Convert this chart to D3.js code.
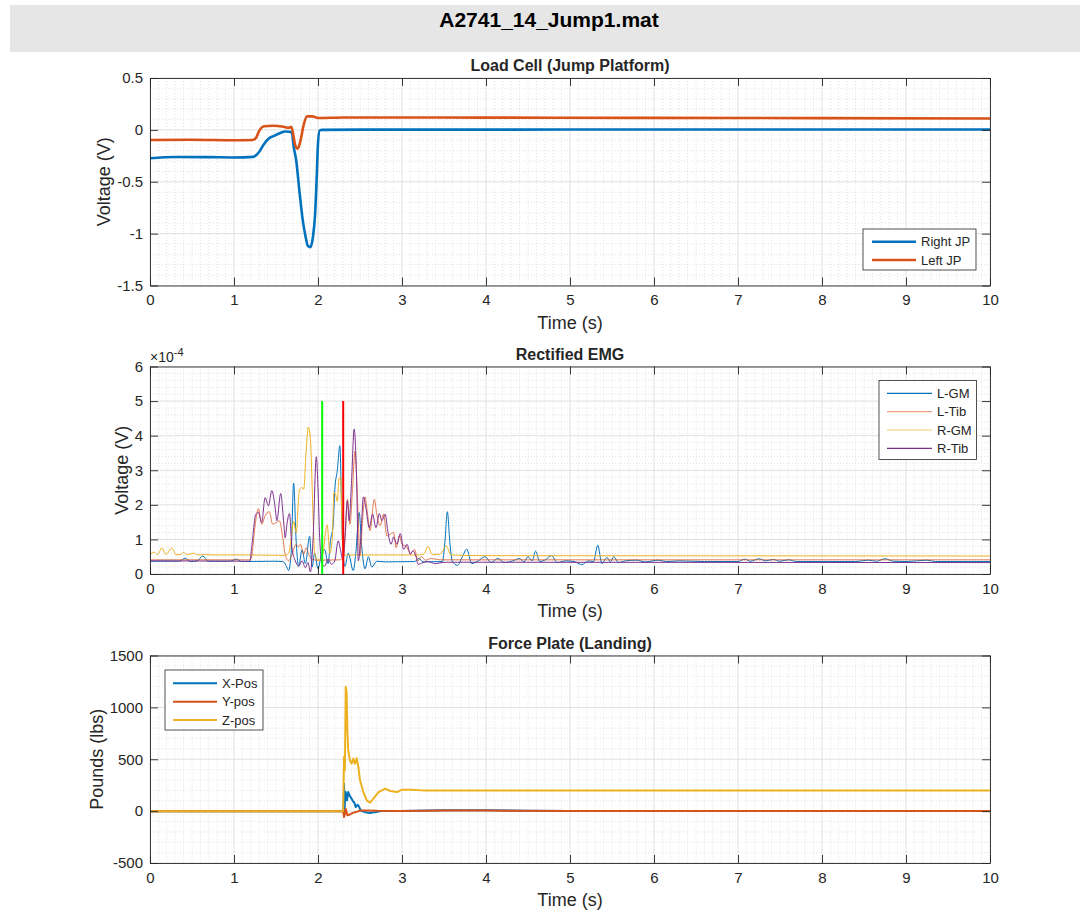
<!DOCTYPE html>
<html><head><meta charset="utf-8">
<script src="https://cdn.jsdelivr.net/npm/d3@7"></script>
<style>body{margin:0;background:#fff}svg{display:block}text{font-family:"Liberation Sans",Arial,Helvetica,sans-serif;fill:#262626}</style>
</head><body><div id="chart"></div>
<script>
// ---------------- DATA ----------------
const figTitle = "A2741_14_Jump1.mat";
const xTicks = [0,1,2,3,4,5,6,7,8,9,10];

// Load cell [time s, volts]
const rightJP = [[0,-0.273],[0.3,-0.262],[0.7,-0.263],[1.0,-0.266],[1.23,-0.26],[1.27,-0.24],[1.31,-0.2],[1.35,-0.145],[1.41,-0.085],[1.47,-0.06],[1.55,-0.03],[1.61,-0.015],[1.66,-0.018],[1.69,-0.03],[1.71,-0.16],[1.74,-0.29],[1.78,-0.6],[1.82,-0.88],[1.85,-1.02],[1.88,-1.12],[1.91,-1.13],[1.94,-1.03],[1.965,-0.82],[1.985,-0.45],[2.0,-0.13],[2.02,-0.005],[2.05,0.0],[2.5,0.002],[5,0.003],[7.5,0.004],[10,0.004]];
const leftJP = [[0,-0.097],[0.5,-0.095],[1.0,-0.1],[1.22,-0.098],[1.26,-0.08],[1.3,-0.01],[1.36,0.035],[1.46,0.04],[1.59,0.03],[1.65,0.02],[1.68,0.03],[1.70,-0.02],[1.73,-0.15],[1.76,-0.18],[1.79,-0.11],[1.83,0.05],[1.87,0.13],[1.93,0.13],[2.0,0.115],[2.3,0.12],[4,0.118],[6,0.116],[8,0.113],[10,0.11]];
const loadYTicks = [0.5,0,-0.5,-1,-1.5];

// Rectified EMG [time s, value x1e-4 V]
const lGM = [[0,0.37],[0.35,0.37],[0.42,0.46],[0.48,0.36],[0.56,0.38],[0.63,0.52],[0.69,0.37],[0.95,0.37],[1.03,0.43],[1.09,0.36],[1.5,0.37],[1.58,0.36],[1.62,0.25],[1.65,0.1],[1.68,0.6],[1.71,2.62],[1.74,0.95],[1.77,0.22],[1.81,0.7],[1.85,0.3],[1.9,1.09],[1.93,0.2],[1.96,0.6],[2.0,0.15],[2.04,0.55],[2.08,0.7],[2.12,0.3],[2.15,1.0],[2.18,1.4],[2.2,2.44],[2.23,3.0],[2.26,3.71],[2.29,1.0],[2.32,0.22],[2.36,0.6],[2.42,0.1],[2.45,0.6],[2.49,1.78],[2.52,0.8],[2.56,0.15],[2.6,0.5],[2.64,0.2],[2.7,0.37],[2.8,0.35],[3.15,0.36],[3.2,0.45],[3.25,0.35],[3.48,0.36],[3.51,0.9],[3.54,1.8],[3.57,0.9],[3.6,0.37],[3.66,0.25],[3.72,0.5],[3.77,0.72],[3.83,0.3],[3.9,0.37],[3.99,0.5],[4.06,0.33],[4.14,0.45],[4.22,0.33],[4.32,0.38],[4.4,0.45],[4.45,0.35],[4.5,0.5],[4.55,0.38],[4.59,0.66],[4.64,0.36],[4.7,0.4],[4.78,0.53],[4.85,0.33],[4.95,0.38],[5.05,0.36],[5.14,0.27],[5.22,0.38],[5.28,0.36],[5.33,0.83],[5.38,0.3],[5.44,0.48],[5.48,0.35],[5.52,0.5],[5.58,0.33],[5.66,0.38],[5.79,0.4],[5.9,0.35],[6.05,0.4],[6.15,0.36],[6.3,0.38],[6.6,0.36],[7.0,0.36],[7.08,0.43],[7.15,0.37],[7.25,0.44],[7.33,0.38],[7.42,0.42],[7.5,0.37],[7.6,0.41],[7.7,0.36],[8.4,0.36],[8.55,0.4],[8.65,0.37],[8.75,0.44],[8.85,0.37],[9.0,0.36],[9.25,0.4],[9.35,0.36],[10,0.36]];
const lTib = [[0,0.41],[1.19,0.41],[1.21,0.5],[1.25,1.38],[1.29,1.89],[1.33,1.44],[1.37,1.68],[1.42,1.8],[1.46,1.44],[1.5,1.48],[1.54,1.54],[1.58,1.05],[1.61,0.57],[1.65,0.38],[1.68,0.5],[1.71,0.71],[1.74,0.86],[1.765,0.78],[1.79,0.86],[1.83,0.57],[1.86,0.76],[1.89,0.57],[1.93,0.42],[2.0,0.4],[2.26,0.41],[2.3,0.47],[2.33,1.3],[2.35,2.16],[2.38,1.44],[2.41,2.4],[2.44,3.55],[2.47,2.2],[2.5,0.52],[2.53,1.54],[2.56,2.23],[2.59,1.73],[2.62,1.25],[2.67,2.16],[2.70,1.73],[2.74,1.4],[2.78,1.73],[2.82,1.1],[2.86,1.15],[2.9,1.2],[2.93,0.76],[2.97,1.1],[3.0,0.86],[3.05,0.8],[3.1,0.6],[3.15,0.71],[3.19,0.38],[3.23,0.5],[3.28,0.4],[3.35,0.45],[3.45,0.41],[4,0.41],[10,0.41]];
const rGM = [[0,0.56],[0.05,0.63],[0.09,0.56],[0.14,0.75],[0.19,0.57],[0.26,0.75],[0.31,0.56],[0.36,0.56],[0.4,0.63],[0.44,0.56],[0.52,0.6],[0.57,0.55],[0.66,0.56],[0.75,0.55],[1.2,0.55],[1.6,0.54],[1.65,0.6],[1.68,1.0],[1.71,1.52],[1.74,1.2],[1.78,2.44],[1.81,2.5],[1.83,2.45],[1.86,3.6],[1.885,4.25],[1.91,3.88],[1.94,1.76],[1.96,0.6],[2.0,0.4],[2.04,0.42],[2.06,0.6],[2.09,1.2],[2.11,1.42],[2.14,0.6],[2.17,1.0],[2.19,2.36],[2.21,2.3],[2.23,2.1],[2.25,2.75],[2.27,2.8],[2.29,1.0],[2.31,0.53],[2.34,0.55],[3.2,0.55],[3.26,0.58],[3.31,0.8],[3.36,0.56],[3.45,0.57],[3.53,0.81],[3.58,0.55],[4,0.53],[10,0.52]];
const rTib = [[0,0.38],[1.19,0.37],[1.21,0.76],[1.26,1.73],[1.29,1.78],[1.33,1.49],[1.37,2.21],[1.41,1.97],[1.45,2.41],[1.49,1.92],[1.51,1.54],[1.556,2.33],[1.59,1.54],[1.61,1.05],[1.63,1.44],[1.66,1.75],[1.69,0.76],[1.73,0.38],[1.77,0.23],[1.81,0.38],[1.85,0.18],[1.88,0.33],[1.91,0.06],[1.94,0.96],[1.98,3.39],[2.0,2.5],[2.02,1.05],[2.05,0.28],[2.08,0.23],[2.12,0.43],[2.16,0.28],[2.2,0.38],[2.24,0.96],[2.27,0.67],[2.3,0.38],[2.32,1.05],[2.35,2.12],[2.37,1.54],[2.40,2.7],[2.43,4.19],[2.46,2.7],[2.48,0.38],[2.51,1.05],[2.54,2.23],[2.57,1.92],[2.61,1.34],[2.65,1.73],[2.69,1.34],[2.73,1.75],[2.76,1.54],[2.80,1.73],[2.83,1.25],[2.87,0.86],[2.90,1.07],[2.94,0.86],[2.98,1.17],[3.02,0.71],[3.06,0.86],[3.10,0.57],[3.13,0.67],[3.17,0.47],[3.19,0.28],[3.25,0.33],[3.3,0.36],[3.4,0.3],[3.5,0.34],[4,0.34],[10,0.33]];
const emgMarkers = [{t:2.05,color:"#00ff00"},{t:2.3,color:"#ff0000"}];
const emgMarkerTop = 5;
const emgYTicks = [0,1,2,3,4,5,6];

// Force plate [time s, lbs]
const xPos = [[0,0],[2.3,0],[2.305,60],[2.31,265],[2.315,0],[2.325,150],[2.33,184],[2.345,104],[2.36,184],[2.375,152],[2.4,120],[2.42,90],[2.43,87],[2.45,39],[2.47,60],[2.48,55],[2.51,6],[2.54,-5],[2.56,-10],[2.62,-19],[2.66,-12],[2.68,-10],[2.75,0],[3,2],[3.5,8],[4,8],[4.5,3],[5,2],[10,2]];
const yPos = [[0,0],[2.3,0],[2.31,-57],[2.32,-30],[2.33,22],[2.35,-40],[2.38,-32],[2.41,-20],[2.44,-10],[2.47,-5],[2.5,6],[2.58,6],[2.7,3],[3,2],[3.5,6],[4,5],[5,2],[10,2]];
const zPos = [[0,0],[2.29,0],[2.30,5],[2.31,523],[2.32,394],[2.33,1199],[2.34,1150],[2.35,780],[2.36,587],[2.38,490],[2.40,458],[2.42,506],[2.44,458],[2.46,510],[2.48,426],[2.50,297],[2.54,184],[2.58,104],[2.62,81],[2.66,120],[2.72,184],[2.80,217],[2.86,194],[2.94,184],[3.0,207],[3.1,205],[3.25,200],[4,200],[6,199],[8,198],[10,198]];
const forceYTicks = [1500,1000,500,0,-500];

const C = {blue:"#0072BD", orange:"#D95319", yellow:"#EDB120", purple:"#7E2F8E"};

// ---------------- LAYOUT ----------------
const W = 1090, H = 912;
const L = 150, R = 990, PH = 207.5;
const svg = d3.select("#chart").append("svg").attr("width", W).attr("height", H);

svg.append("rect").attr("x",10).attr("y",5).attr("width",1070).attr("height",47).attr("fill","#e6e6e6");
svg.append("text").attr("x",549).attr("y",27).attr("text-anchor","middle")
  .attr("font-size",21).attr("font-weight","bold").style("fill","#000").text(figTitle);

function makeAxes(idx, top, domain, yTicks, yMinor, title, ylabel, ylabelX) {
  const x = d3.scaleLinear().domain([0,10]).range([L,R]);
  const y = d3.scaleLinear().domain(domain).range([top+PH, top]);
  const g = svg.append("g");
  g.append("rect").attr("x",L).attr("y",top).attr("width",R-L).attr("height",PH).attr("fill","#fff");
  const xMinor = d3.range(0,10.0001,0.1).filter(v=>Math.abs(v-Math.round(v))>1e-6);
  g.selectAll(null).data(xMinor).join("line")
    .attr("x1",d=>x(d)).attr("x2",d=>x(d)).attr("y1",top).attr("y2",top+PH)
    .attr("stroke","#d0d0d0").attr("stroke-width",0.6).attr("stroke-dasharray","1,2");
  const yMin = d3.range(domain[0],domain[1]+1e-9,yMinor).filter(v=>!yTicks.some(t=>Math.abs(t-v)<1e-9));
  g.selectAll(null).data(yMin).join("line")
    .attr("x1",L).attr("x2",R).attr("y1",d=>y(d)).attr("y2",d=>y(d))
    .attr("stroke","#d0d0d0").attr("stroke-width",0.6).attr("stroke-dasharray","1,2");
  g.selectAll(null).data(xTicks).join("line")
    .attr("x1",d=>x(d)).attr("x2",d=>x(d)).attr("y1",top).attr("y2",top+PH)
    .attr("stroke","#e0e0e0").attr("stroke-width",1);
  g.selectAll(null).data(yTicks).join("line")
    .attr("x1",L).attr("x2",R).attr("y1",d=>y(d)).attr("y2",d=>y(d))
    .attr("stroke","#e0e0e0").attr("stroke-width",1);
  svg.append("clipPath").attr("id","clip"+idx).append("rect").attr("x",L).attr("y",top).attr("width",R-L).attr("height",PH);
  const plot = svg.append("g").attr("clip-path",`url(#clip${idx})`);
  const axg = svg.append("g");
  const fmt = v => String(v);
  const ax = axg.append("g").attr("transform",`translate(0,${top+PH})`)
    .call(d3.axisBottom(x).tickValues(xTicks).tickSizeInner(-8).tickSizeOuter(0).tickPadding(9).tickFormat(fmt));
  const axT = axg.append("g").attr("transform",`translate(0,${top})`)
    .call(d3.axisTop(x).tickValues(xTicks).tickSizeInner(-8).tickSizeOuter(0).tickFormat(""));
  const ay = axg.append("g").attr("transform",`translate(${L},0)`)
    .call(d3.axisLeft(y).tickValues(yTicks).tickSizeInner(-8).tickSizeOuter(0).tickPadding(7).tickFormat(fmt));
  const ayR = axg.append("g").attr("transform",`translate(${R},0)`)
    .call(d3.axisRight(y).tickValues(yTicks).tickSizeInner(-8).tickSizeOuter(0).tickFormat(""));
  [ax,axT,ay,ayR].forEach(a=>{
    a.select(".domain").attr("stroke","#262626").attr("stroke-width",0.9);
    a.selectAll(".tick line").attr("stroke","#262626").attr("stroke-width",0.9);
    a.selectAll(".tick text").attr("font-size",15).attr("fill","#262626").style("font-family",'"Liberation Sans",Arial,sans-serif');
  });
  axg.append("text").attr("x",(L+R)/2).attr("y",top-7).attr("text-anchor","middle")
    .attr("font-size",16).attr("font-weight","bold").text(title);
  axg.append("text").attr("x",(L+R)/2).attr("y",top+PH+43).attr("text-anchor","middle")
    .attr("font-size",18).text("Time (s)");
  axg.append("text").attr("transform",`translate(${ylabelX},${top+PH/2}) rotate(-90)`).attr("text-anchor","middle")
    .attr("font-size",18).text(ylabel);
  return {x,y,plot,axg,top};
}

function drawLine(ax, data, color, width, curve, op) {
  const line = d3.line().x(d=>ax.x(d[0])).y(d=>ax.y(d[1])).curve(curve||d3.curveLinear);
  ax.plot.append("path").datum(data).attr("d",line).attr("fill","none")
    .attr("stroke",color).attr("stroke-width",width).attr("stroke-linejoin","round").attr("stroke-opacity",op||1);
}

function legend(ax, x0, y0, w, h, items, lw, rowY) {
  const g = ax.axg.append("g");
  g.append("rect").attr("x",x0).attr("y",y0).attr("width",w).attr("height",h)
    .attr("fill","#fff").attr("stroke","#262626").attr("stroke-width",0.8);
  items.forEach((it,i)=>{
    const yy = rowY[i];
    g.append("line").attr("x1",it.x1).attr("x2",it.x2).attr("y1",yy).attr("y2",yy)
      .attr("stroke",it.color).attr("stroke-width",lw).attr("stroke-opacity",it.op||1);
    g.append("text").attr("x",it.x2+5).attr("y",yy+4.5).attr("font-size",13).text(it.label);
  });
}

// ---- Plot 1: Load Cell ----
const a1 = makeAxes(1, 78, [-1.5,0.5], loadYTicks, 0.1, "Load Cell (Jump Platform)", "Voltage (V)", 110);
drawLine(a1, rightJP, C.blue, 2.6, d3.curveMonotoneX);
drawLine(a1, leftJP, C.orange, 2.6, d3.curveMonotoneX);
legend(a1, 863, 229, 113, 41, [
  {label:"Right JP", color:C.blue, x1:872, x2:916},
  {label:"Left JP", color:C.orange, x1:872, x2:916}], 2.6, [241.7, 260]);

// ---- Plot 2: Rectified EMG ----
const a2 = makeAxes(2, 366.5, [0,6], emgYTicks, 0.2, "Rectified EMG", "Voltage (V)", 128);
drawLine(a2, lGM, C.blue, 1, d3.curveMonotoneX);
drawLine(a2, lTib, C.orange, 1, d3.curveMonotoneX, 0.75);
drawLine(a2, rGM, C.yellow, 1, d3.curveMonotoneX);
drawLine(a2, rTib, C.purple, 1, d3.curveMonotoneX);
emgMarkers.forEach(m=>{
  a2.plot.append("line").attr("x1",a2.x(m.t)).attr("x2",a2.x(m.t)).attr("y1",a2.y(0)).attr("y2",a2.y(emgMarkerTop))
    .attr("stroke",m.color).attr("stroke-width",2);
});
const ex = a2.axg.append("text").attr("x",L).attr("y",362).attr("font-size",14);
ex.append("tspan").text("\u00d710");
ex.append("tspan").attr("dy",-6).attr("font-size",11).text("-4");
legend(a2, 879, 380.5, 97.5, 79, [
  {label:"L-GM", color:C.blue, x1:887, x2:932},
  {label:"L-Tib", color:C.orange, x1:887, x2:932, op:0.55},
  {label:"R-GM", color:C.yellow, x1:887, x2:932, op:0.65},
  {label:"R-Tib", color:C.purple, x1:887, x2:932}], 1.2, [393.3, 411.7, 430, 448.3]);

// ---- Plot 3: Force Plate ----
const a3 = makeAxes(3, 655.5, [-500,1500], forceYTicks, 100, "Force Plate (Landing)", "Pounds (lbs)", 103);
drawLine(a3, xPos, C.blue, 2);
drawLine(a3, yPos, C.orange, 2);
drawLine(a3, zPos, C.yellow, 2);
legend(a3, 165, 670, 98, 60, [
  {label:"X-Pos", color:C.blue, x1:173, x2:217},
  {label:"Y-pos", color:C.orange, x1:173, x2:217},
  {label:"Z-pos", color:C.yellow, x1:173, x2:217}], 2, [683.3, 701.7, 720]);
</script></body></html>
